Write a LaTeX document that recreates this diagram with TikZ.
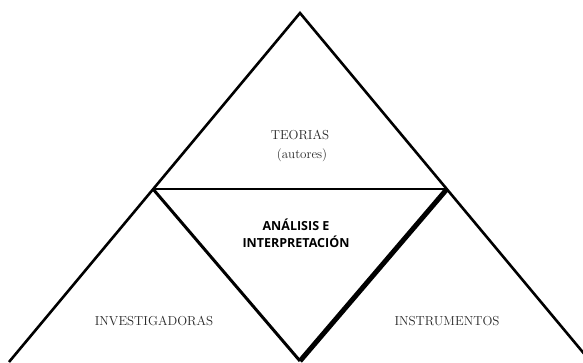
\documentclass[tikz,border=0pt]{standalone}
\usepackage{fontspec}
\newfontfamily\labfont{Open Sans}
\begin{document}
\begin{tikzpicture}[x=1pt,y=-1pt,
  outer/.style={line width=2.6pt},
  mid/.style={line width=2pt},
  lbl/.style={font=\fontsize{13}{15}\selectfont, text=black!85, inner sep=0pt},
  boldlbl/.style={font=\labfont\bfseries\fontsize{12.5}{17}\selectfont, align=center, inner sep=0pt}]
\useasboundingbox (0,0) rectangle (583,362);
\begin{scope}
\clip (0,0) rectangle (583,362);
\coordinate (apex) at (300,13);
\coordinate (L) at (153,189);
\coordinate (R) at (447,189);
\coordinate (B) at (300,361);
\coordinate (BL) at (9,362);
\coordinate (BR) at (591,362);
\draw[outer, line join=miter] (BL) -- (apex) -- (BR);
\draw[mid] (L) -- (R);
\draw[line width=3pt] (L) -- (B);
\draw[line width=5pt] (R) -- (B);
\end{scope}
\node[lbl] (teo) at (300,135) {TEORIAS};
\node[lbl] (aut) at (302,155) {(autores)};
\node[boldlbl] (ana) at (296,233) {ANÁLISIS E\\INTERPRETACIÓN};
\node[lbl] (inv) at (154,321) {INVESTIGADORAS};
\node[lbl] (ins) at (447,321) {INSTRUMENTOS};
\end{tikzpicture}
\end{document}
